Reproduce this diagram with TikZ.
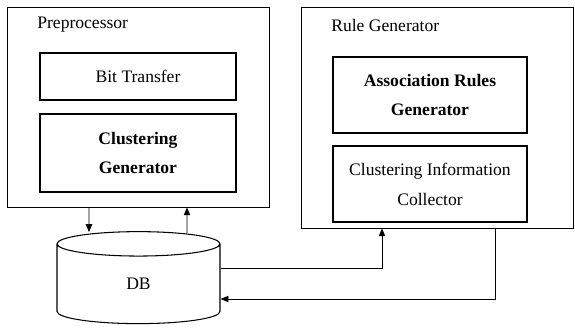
\documentclass[tikz,border=0pt]{standalone}
\usepackage{fontspec}
\setmainfont{Liberation Serif}
\usetikzlibrary{arrows.meta,calc}
\usetikzlibrary{shapes.geometric}

\begin{document}
\begin{tikzpicture}[x=0.02cm, y=-0.02cm, >={Triangle[length=4.5pt,width=3.6pt]},
  font=\fontsize{10}{17}\selectfont,
  outer/.style={draw, line width=0.4pt, inner sep=0},
  inbox/.style={draw, line width=0.7pt, align=center, inner sep=0},
  lbl/.style={anchor=west, inner sep=0}]
\useasboundingbox (0,0) rectangle (575,331);

\node [outer, minimum width=5.24cm, minimum height=4cm] (pre) at (138,107) {};
\node [lbl] (prelbl) at (37,25) {Preprocessor};
\node [inbox, minimum width=3.92cm, minimum height=0.94cm] (bit) at (138,76.5) {Bit Transfer};
\node [inbox, minimum width=3.92cm, minimum height=1.56cm, font=\fontsize{10}{17}\selectfont\bfseries] (clust) at (138,153) {Clustering\\Generator};

\node [outer, minimum width=5.44cm, minimum height=4.42cm] (rule) at (437,117.5) {};
\node [lbl] (rulelbl) at (331,25) {Rule Generator};
\node [inbox, minimum width=3.88cm, minimum height=1.52cm, font=\fontsize{10}{17}\selectfont\bfseries] (assoc) at (430,95) {Association Rules\\Generator};
\node [inbox, minimum width=3.88cm, minimum height=1.52cm] (coll) at (430,184) {Clustering Information\\Collector};

\node [cylinder, shape border rotate=90, draw, line width=0.6pt, aspect=1,
  minimum width=3.26cm, minimum height=1.84cm, inner sep=0] (db) at (138.5,284) {\raisebox{-0.1cm}{DB}};

\draw [->, line width=0.5pt] ($(pre.south)+(-49,0)$) -- ($(db.north)+(-49.5,1)$);
\draw [->, line width=0.5pt] ($(db.north)+(48.5,2)$) -- ($(pre.south)+(49,0)$);
\draw [->, line width=0.5pt] ($(db.east)+(0,-15.5)$) -| ($(rule.south)+(-55,0)$);
\draw [->, line width=0.5pt] ($(rule.south)+(58,0)$) |- ($(db.east)+(0,15)$);
\end{tikzpicture}
\end{document}
